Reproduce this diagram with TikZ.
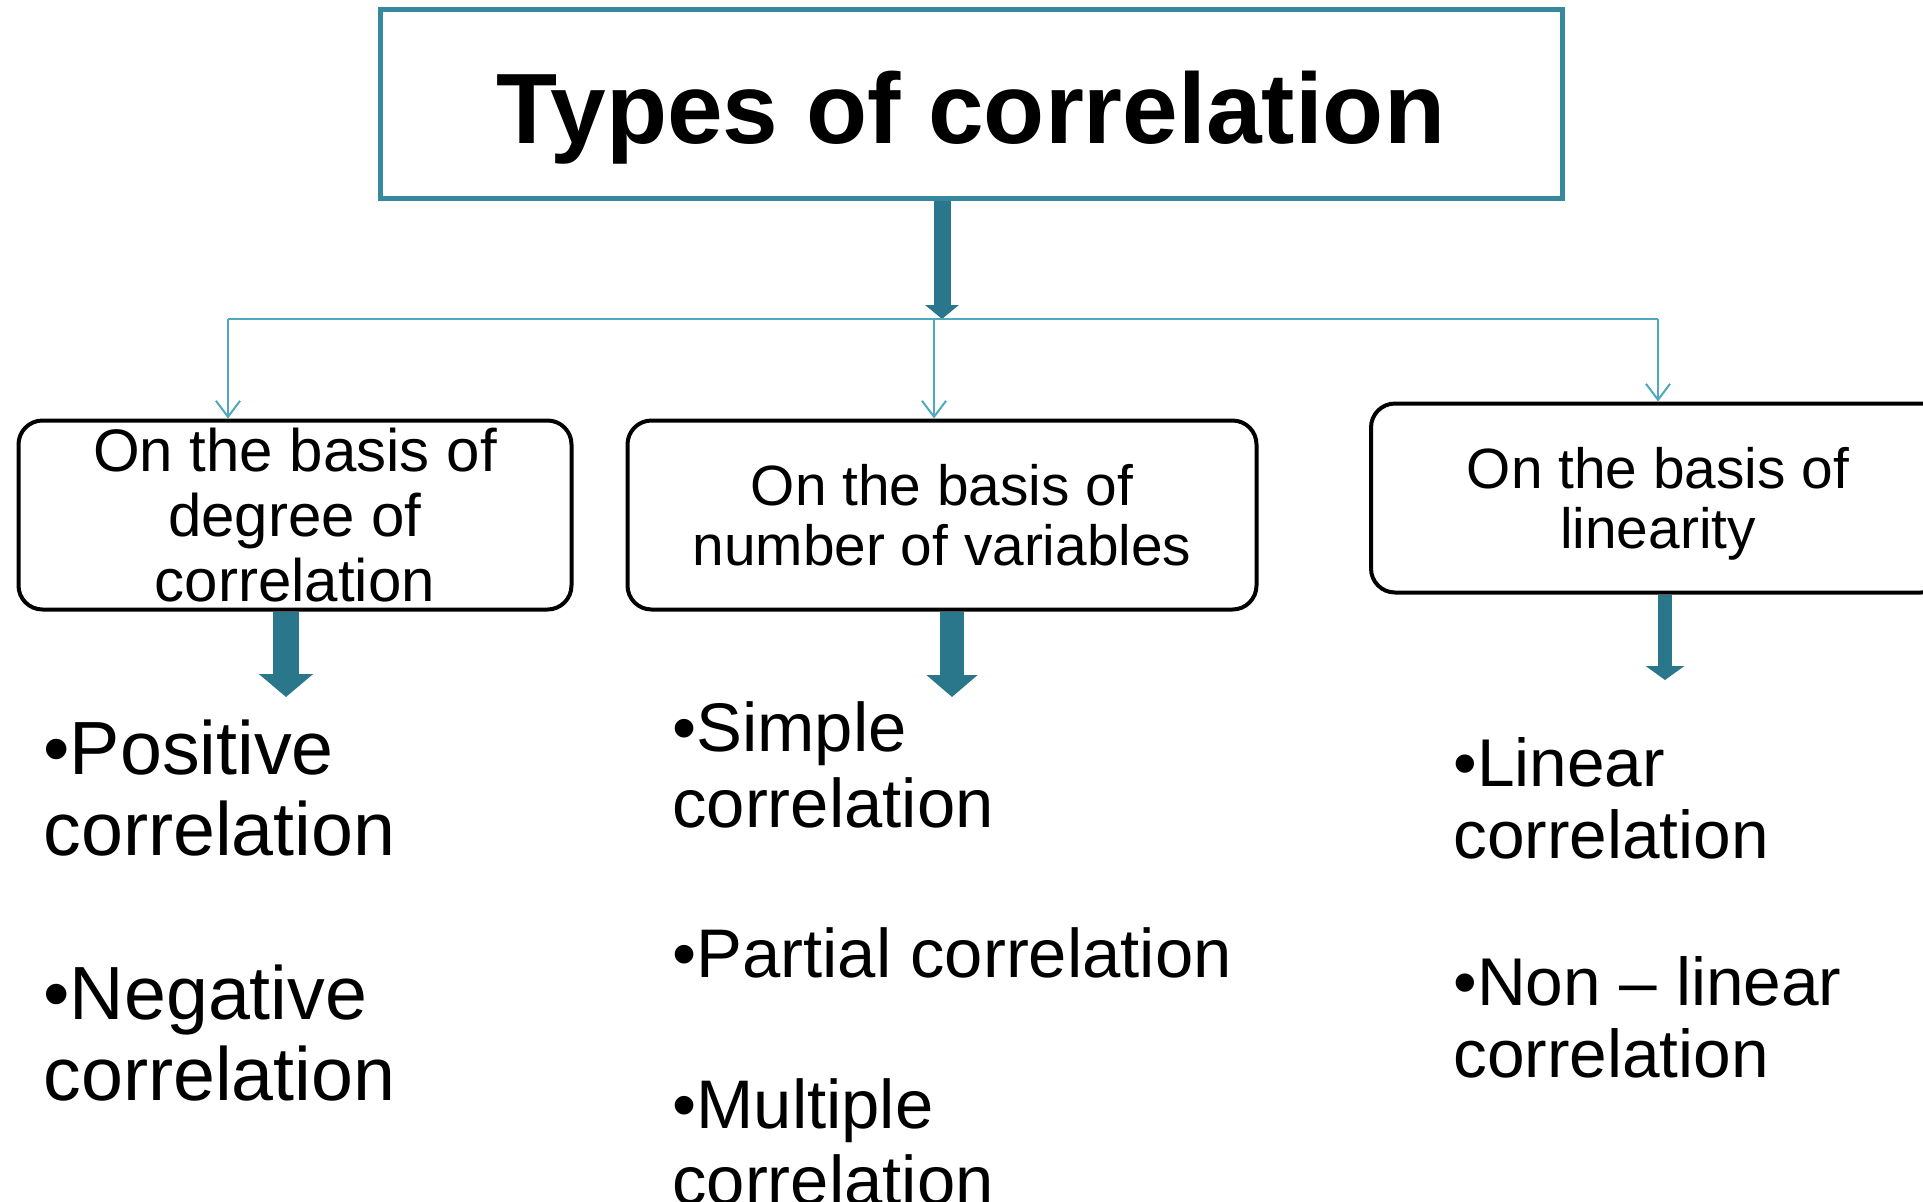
\documentclass[tikz,border=0pt]{standalone}
\usepackage{fontspec}
\setmainfont{Liberation Sans}
\usepackage{tikz}
\usetikzlibrary{arrows.meta, positioning}

\definecolor{boxteal}{RGB}{55,135,158}
\definecolor{lineteal}{RGB}{80,168,192}
\definecolor{arrowteal}{RGB}{42,118,138}

\tikzset{
  basis/.style={draw, rounded corners=12pt, line width=2pt, minimum height=94.5pt, align=center, inner sep=0pt},
  thinarrow/.style={draw=lineteal, line width=1pt, -{Straight Barb[length=8pt,width=12pt]}},
  fatarrow/.style={draw=arrowteal},
  itemA/.style={font=\fontsize{37.7}{40.5}\selectfont, align=left, inner sep=0pt, anchor=base west},
  itemB/.style={font=\fontsize{34.4}{38}\selectfont, align=left, inner sep=0pt, anchor=base west},
  itemC/.style={font=\fontsize{33.8}{36}\selectfont, align=left, inner sep=0pt, anchor=base west}
}

\begin{document}
\begin{tikzpicture}[x=0.5pt, y=-0.5pt]
        \useasboundingbox (0,0) rectangle (1923,1201);
        \fill[white] (0,0) rectangle (1923,1201);
        \clip (0,0) rectangle (1923,1201);
        % Title
        \node[draw=boxteal, line width=2.5pt, minimum width=591pt, minimum height=94.5pt, text height=50pt, text depth=10.5pt, font=\fontsize{50}{55}\selectfont\bfseries] (types) at (971,104) {Types of correlation};
        % Basis boxes
        \node[basis, minimum width=276.5pt, font=\fontsize{30}{32.5}\selectfont] (degree) at (295,515) {On the basis of\\degree of\\correlation};
        \node[basis, minimum width=314.5pt, font=\fontsize{28.4}{30}\selectfont] (number) at (942,515) {On the basis of\\number of variables};
        \node[basis, minimum width=287pt, font=\fontsize{28.4}{30}\selectfont] (linearity) at (1658,498) {\rule{0pt}{26pt}On the basis of\\linearity};
        % Bus
        \coordinate (hub) at (942,319);
        \coordinate (busL) at (228,319);
        \coordinate (busM) at (934,319);
        \coordinate (busR) at (1658,319);
        \draw[fatarrow, line width=8.5pt, -{Triangle[width=16.5pt,length=7pt]}] (types.south -| hub) -- (hub);
        \draw[draw=lineteal, line width=1pt] (busL) -- (busR);
        \draw[thinarrow] (busL) -- (busL |- degree.north);
        \draw[thinarrow] (busM) -- (busM |- number.north);
        \draw[thinarrow] (busR) -- (linearity.north);
        % Down arrows
        \coordinate (degtip) at (286,697);
        \coordinate (numtip) at (952,697);
        \coordinate (lintip) at (1665,680);
        \draw[fatarrow, line width=13pt, -{Triangle[width=26.5pt,length=11.5pt]}] (degtip |- degree.south) -- (degtip);
        \draw[fatarrow, line width=12pt, -{Triangle[width=25pt,length=11pt]}] (numtip |- number.south) -- (numtip);
        \draw[fatarrow, line width=7pt, -{Triangle[width=19pt,length=7pt]}] (lintip |- linearity.south) -- (lintip);
        % Items
        \node[itemA] (positive) at (43,855) {•Positive\\correlation};
        \node[itemA] (negative) at (43,1100) {•Negative\\correlation};
        \node[itemB] (simple) at (672,827) {•Simple\\correlation};
        \node[itemB] (partial) at (672,977) {•Partial correlation};
        \node[itemB] (multiple) at (672,1204) {•Multiple\\correlation};
        \node[itemC] (linear) at (1453,858) {•Linear\\correlation};
        \node[itemC] (nonlinear) at (1453,1077) {•Non – linear\\correlation};
    \end{tikzpicture}
\end{document}
